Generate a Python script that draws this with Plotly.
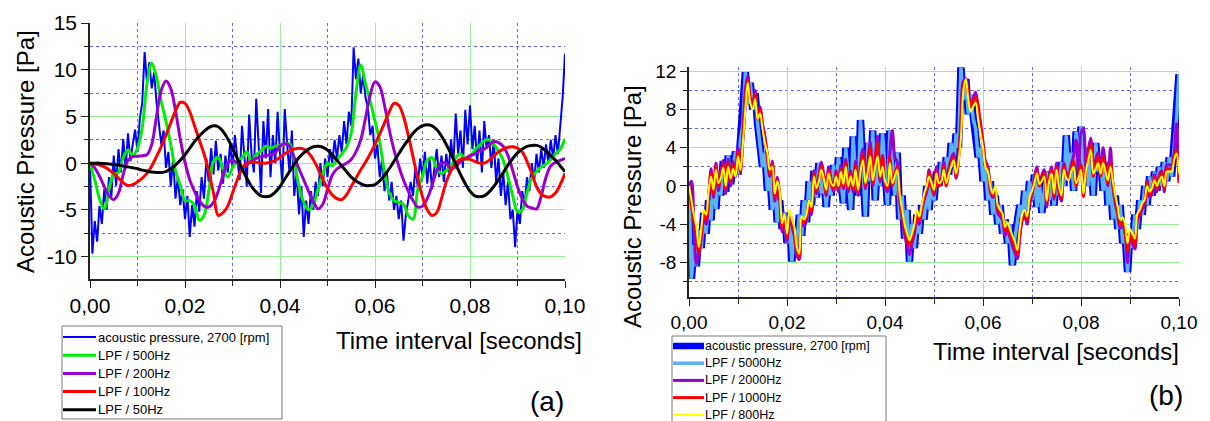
import plotly.graph_objects as go

# ---------------- data ----------------
dt_raw = 0.0005   # sample interval of the raw record [s]
dt_lpf = 0.001    # sample interval of the panel (a) filtered curves [s]

raw_pressure = [
    0, -9.7, -6.2, -8.4, -4.6, -6.5, -2.8, -5.0, -1.5, -3.6,
    0.8, -2.4, 1.5, -1.0, 2.6, -0.6, 3.2, 0.2, 2.0, 3.6,
    1.2, 4.8, 6.5, 11.9, 8.6, 10.8, 8.0, 9.7, 6.5, 4.2,
    2.0, 3.5, -0.5, 1.2, -2.5, 0.5, -3.8, -1.5, -4.5, -2.8,
    -6.0, -3.5, -7.9, -4.5, -6.8, -3.0, -5.2, -1.5, -3.8, 0.5,
    -2.0, 1.6, -1.2, 2.4, -0.8, 1.0, -2.2, 0.8, -1.0, 2.2,
    -0.5, 3.0, 0.2, -1.8, 4.0, 0.5, -2.5, 5.2, 1.0, -1.0,
    6.9, 2.0, -3.2, 4.5, 0.5, 5.8, -1.5, 3.0, 0.0, 5.5,
    1.0, -2.0, 5.8, 2.0, -1.0, 3.5, -3.5, -1.0, -5.5, -2.5,
    -7.9, -4.0, -6.5, -3.0, -5.0, -2.0, -3.5, 0.0, -2.5, 0.5,
    -1.5, 1.5, 0.0, 2.5, 0.5, 3.0, 1.2, 4.5, 2.0, 5.5,
    4.0, 12.4, 9.0, 11.2, 7.5, 9.5, 7.0, 6.0, 3.0, 4.0,
    0.5, 2.0, -1.5, 0.5, -3.0, -1.0, -4.0, -2.0, -5.0, -3.5,
    -6.0, -4.0, -8.3, -5.5, -4.0, -2.0, -3.5, -0.5, -2.5, 0.5,
    -1.5, 1.2, -2.2, 0.5, -2.8, -0.5, 1.5, -1.5, 0.8, -2.0,
    1.0, -1.0, 2.5, 0.0, 5.3, 1.0, 3.5, -0.5, 5.7, 2.0,
    6.2, 1.5, 4.0, 0.0, 3.5, -1.0, 4.5, 1.5, 3.0, -0.5,
    2.5, -2.0, 0.5, -3.5, -1.0, -4.5, -2.0, -6.0, -5.0, -9.0,
    -5.0, -6.5, -3.0, -4.5, -1.5, -3.0, 0.0, -2.0, 1.0, -1.0,
    1.5, -0.5, 2.0, 0.0, 2.5, 0.5, 3.0, 1.0, 4.0, 7.0, 11.7,
]

lpf_500 = [
    0, -1.8, -3.8, -4.9, -2.8, -1.2, -1.0, 0.6, 1.4, 0.8,
    1.6, 3.8, 8.5, 10.7, 9.2, 6.6, 4.5, 2.0, -0.8, -2.4,
    -4.0, -4.0, -4.5, -6.1, -5.6, -3.0, 0.2, 0.6, -0.6, -1.5,
    -0.5, 0.3, 0.6, 1.2, 0.2, 0.9, 1.3, 1.8, 1.6, 1.8,
    1.9, 2.0, 2.1, 0.3, -2.5, -4.2, -5.0, -4.5, -2.8, -1.2,
    0.0, -0.3, 0.4, 1.0, 1.7, 3.2, 7.5, 10.5, 8.5, 6.6,
    4.5, 2.3, -1.0, -3.2, -4.0, -4.2, -4.4, -5.6, -6.0, -2.8,
    -1.4, 0.3, 0.6, -0.6, -1.1, -0.8, -0.3, 0.6, 1.0, 0.4,
    0.6, 1.4, 1.9, 2.4, 2.5, 2.0, 1.3, 0.3, -1.5, -3.5,
    -5.2, -5.0, -3.2, -1.6, -0.9, -0.4, -0.1, 0.4, 1.0, 1.5,
    2.6,
]

lpf_200 = [
    0, -0.5, -1.4, -2.5, -3.5, -3.9, -3.2, -1.2, 0.3, 0.7,
    0.75, 0.8, 0.9, 2.0, 5.0, 7.8, 8.8, 8.0, 5.6, 2.6,
    0.1, -1.8, -3.0, -4.0, -4.6, -4.7, -4.2, -3.0, -1.3, 0.0,
    0.3, 0.0, -0.4, -0.2, 0.2, 0.5, 0.7, 0.8, 0.9, 1.1,
    1.8, 2.1, 1.8, 0.6, -0.6, -1.8, -3.0, -4.1, -4.9, -4.4,
    -2.8, -1.3, -0.6, -0.3, 0.0, 0.4, 1.2, 2.5, 4.8, 7.3,
    8.7, 8.2, 6.2, 3.6, 1.4, -0.3, -1.8, -3.0, -4.0, -4.7,
    -4.6, -3.8, -2.4, -0.8, 0.0, 0.0, -0.6, -0.4, 0.2, 0.5,
    0.8, 1.0, 1.3, 1.5, 1.9, 2.3, 2.2, 1.8, 0.8, -0.8,
    -2.5, -3.8, -4.6, -4.8, -4.9, -3.5, -1.5, -0.3, 0.1, 0.3,
    0.5,
]

lpf_100 = [
    0, -0.1, -0.2, -0.4, -0.7, -1.1, -1.6, -2.1, -2.4, -2.3,
    -2.0, -1.6, -1.1, -0.3, 0.7, 1.8, 3.0, 4.3, 5.6, 6.5,
    6.4, 5.5, 4.0, 2.5, 1.0, -0.9, -3.2, -5.6, -5.3, -4.6,
    -3.2, -1.8, -0.6, 0.0, 0.1, 0.1, 0.0, 0.0, 0.1, 0.3,
    0.6, 1.0, 1.3, 1.5, 1.6, 1.5, 1.1, 0.4, -0.6, -1.7,
    -2.7, -3.4, -3.8, -3.9, -3.4, -2.5, -1.6, -0.7, 0.1, 1.0,
    2.0, 3.1, 4.3, 5.5, 6.4, 6.2, 5.0, 3.0, 0.7, -1.6,
    -3.6, -5.0, -5.6, -5.3, -3.8, -2.0, -0.8, 0.0, 0.4, 0.5,
    0.4, 0.2, 0.0, 0.0, 0.3, 0.8, 1.2, 1.5, 1.7, 1.75,
    1.6, 1.2, 0.2, -1.1, -2.5, -3.3, -3.6, -3.6, -3.2, -2.3,
    -1.1,
]

lpf_50 = [
    0, 0, 0, -0.05, -0.1, -0.15, -0.2, -0.3, -0.4, -0.5,
    -0.6, -0.75, -0.85, -0.95, -1.0, -1.0, -0.9, -0.6, -0.2, 0.3,
    0.9, 1.6, 2.3, 2.9, 3.4, 3.8, 4.0, 3.9, 3.4, 2.6,
    1.6, 0.5, -0.6, -1.6, -2.5, -3.1, -3.5, -3.6, -3.5, -3.1,
    -2.5, -1.7, -0.9, -0.1, 0.6, 1.1, 1.5, 1.75, 1.8, 1.7,
    1.4, 0.9, 0.3, -0.3, -0.9, -1.5, -1.9, -2.2, -2.4, -2.4,
    -2.3, -1.9, -1.3, -0.6, 0.2, 1.0, 1.8, 2.5, 3.2, 3.7,
    4.0, 4.1, 4.0, 3.6, 2.9, 2.0, 1.0, -0.1, -1.2, -2.2,
    -3.0, -3.5, -3.6, -3.5, -3.1, -2.5, -1.8, -1.0, -0.2, 0.5,
    1.1, 1.5, 1.8, 1.9, 1.9, 1.7, 1.3, 0.8, 0.3, -0.3,
    -0.9,
]

# panel (b): filtered records at the raw sample interval
lpf_5000_b = list(raw_pressure)

lpf_2000_b = [
    0, 0.5, -4.0, -8.2, -7.0, -5.5, -3.5, -4.0, -1.5, 1.8,
    -1.2, 2.4, -0.5, 1.5, 2.7, -0.8, 2.8, 0.0, 2.6, 1.0,
    4.0, 2.0, 5.5, 10.0, 11.5, 9.2, 8.6, 10.0, 7.3, 8.3,
    6.5, 5.2, 3.0, 1.0, 2.6, -1.6, 0.9, -1.2, -4.8, -3.6,
    -5.8, -3.2, -4.2, -5.2, -7.2, -7.7, -4.0, -4.2, -3.5, -1.5,
    -3.0, 1.6, -0.8, 1.0, 2.5, 1.2, -1.0, 2.0, 0.6, -0.6,
    1.6, -0.6, 2.2, -0.3, 2.8, -0.6, 1.6, -0.6, 2.6, -1.0,
    2.2, 3.9, -0.3, 2.5, 4.6, 0.0, 3.0, 5.2, 0.4, 3.2,
    0.0, -0.6, 3.5, 5.8, 3.0, 2.5, -1.5, -3.5, -5.0, -6.2,
    -7.2, -6.0, -5.0, -3.2, -4.0, -2.6, -1.4, -0.6, 1.7, 0.3,
    -1.0, 2.0, 0.3, 0.8, 2.5, 0.3, 1.8, 2.8, 3.4, 0.8,
    3.0, 7.0, 11.0, 11.2, 9.8, 8.6, 9.2, 9.8, 8.0, 6.6,
    4.6, 2.6, 2.0, -0.6, -1.2, -0.6, -2.8, -3.2, -3.6, -5.2,
    -4.6, -5.4, -6.2, -7.0, -7.6, -5.4, -3.6, -3.0, -4.0, -1.8,
    -1.0, 0.9, 2.0, 0.3, 1.1, 1.7, -2.2, 1.0, 2.0, -1.4,
    2.4, -0.6, -1.6, 2.4, 1.4, 1.2, 2.2, 3.2, 4.8, 1.4,
    5.5, 6.0, 2.0, 3.8, 5.0, 1.2, 2.8, 3.5, 1.4, 4.0,
    2.2, 0.0, 4.0, 0.0, -1.8, -3.0, -4.4, -4.2, -5.0, -8.0,
    -5.5, -6.0, -6.6, -3.6, -3.1, -2.4, -2.0, 0.6, -1.2, -0.8,
    1.2, -0.6, 1.2, 1.6, -0.6, 2.2, 2.2, 2.2, 3.4, 6.5, 0.5,
]

lpf_1000_b = [
    0, -2.0, -3.5, -5.0, -7.0, -5.0, -3.0, -3.5, -1.0, 1.3,
    -0.8, 2.0, 0.0, 1.0, 2.2, -0.3, 2.4, 0.5, 2.2, 1.2,
    3.5, 1.5, 5.0, 9.0, 11.0, 9.0, 8.3, 9.6, 7.0, 8.0,
    6.2, 4.8, 3.2, 1.3, 2.3, -1.2, 0.6, -0.8, -4.3, -3.3,
    -5.4, -2.8, -3.8, -4.8, -6.8, -7.4, -3.6, -3.8, -3.2, -1.8,
    -2.6, 1.3, -0.5, 0.7, 2.1, 0.9, -0.7, 1.6, 0.3, -0.3,
    1.3, -0.3, 1.8, 0.0, 2.4, -0.3, 1.3, -0.3, 2.1, -0.7,
    1.8, 3.3, 0.0, 1.8, 4.0, 0.3, 2.4, 4.5, 0.8, 3.0,
    0.3, -0.3, 3.0, 0.0, 1.3, 2.0, -1.2, -3.0, -4.5, -5.5,
    -6.2, -5.4, -4.4, -2.8, -3.6, -2.3, -1.1, -0.3, 1.4, 0.0,
    -0.8, 1.6, 0.0, 0.4, 2.1, 0.0, 1.4, 2.4, 3.0, 1.0,
    2.8, 6.0, 10.5, 11.0, 9.5, 8.3, 8.8, 9.3, 8.5, 6.0,
    4.3, 2.3, 1.8, -0.3, -1.0, -0.2, -2.4, -2.8, -3.2, -4.7,
    -4.2, -5.0, -5.7, -6.3, -7.1, -5.0, -3.3, -2.8, -3.6, -1.5,
    -0.8, 0.6, 1.6, 0.0, 0.8, 1.3, -1.8, 0.8, 1.6, -1.1,
    2.0, -0.3, -1.3, 2.0, 1.1, 0.9, 1.8, 2.6, 0.0, 1.1,
    2.2, -1.1, 1.8, 3.2, 4.4, 1.0, 2.4, 3.0, 1.0, 3.0,
    1.8, 0.3, 2.4, 0.2, -1.4, -2.6, -4.0, -3.8, -4.6, -6.8,
    -5.0, -5.5, -6.2, -3.3, -2.8, -2.1, -1.6, 0.3, -0.9, -0.5,
    0.9, -0.3, 0.9, 1.3, -0.3, 1.8, 1.8, 1.8, 3.0, 3.8, 0.3,
]

lpf_800_b = [
    0, -1.5, -3.0, -4.2, -6.4, -4.5, -2.5, -3.0, -0.5, 1.0,
    -0.4, 1.7, 0.3, 0.8, 1.9, 0.0, 2.0, 0.8, 1.8, 1.0,
    3.1, 1.7, 4.5, 8.0, 10.8, 8.7, 8.0, 9.1, 7.0, 7.6,
    6.0, 4.5, 3.5, 1.7, 2.0, -0.8, 0.5, -0.5, -3.9, -3.0,
    -5.0, -2.5, -3.5, -4.3, -6.4, -7.1, -3.2, -3.5, -2.9, -1.5,
    -2.2, 1.0, -0.2, 0.5, 1.7, 0.8, -0.4, 1.3, 0.3, 0.0,
    1.0, 0.0, 1.5, 0.2, 2.0, 0.0, 1.0, 0.0, 1.7, -0.4,
    1.5, 2.7, 0.3, 1.5, 3.1, 0.6, 2.0, 3.1, 1.0, 2.0,
    0.5, 0.0, 2.4, 0.3, 1.0, 1.7, -0.8, -2.5, -4.0, -5.0,
    -5.7, -5.0, -4.0, -2.5, -3.2, -2.0, -0.8, 0.0, 1.0, 0.3,
    -0.4, 1.3, 0.3, 0.5, 1.7, 0.3, 1.2, 2.0, 2.7, 1.3,
    2.5, 5.0, 10.0, 11.2, 9.0, 7.8, 8.3, 8.7, 7.0, 5.5,
    4.0, 2.0, 1.5, 0.0, -0.8, 0.0, -2.0, -2.5, -2.9, -4.3,
    -3.8, -4.5, -5.2, -5.8, -6.7, -4.5, -3.0, -2.5, -3.2, -1.2,
    -0.5, 0.3, 1.3, 0.2, 0.5, 1.0, -1.5, 0.5, 1.3, -0.8,
    1.7, 0.0, -1.0, 1.7, 0.8, 0.6, 1.5, 2.0, 0.3, 0.8,
    1.7, -0.8, 1.5, 2.7, 3.8, 1.3, 1.8, 2.4, 1.3, 2.4,
    1.5, 0.6, 2.0, 0.5, -1.0, -2.2, -3.5, -3.3, -4.0, -6.0,
    -4.5, -5.0, -5.5, -2.9, -2.5, -1.8, -1.4, 0.0, -0.6, -0.2,
    0.6, 0.0, 0.6, 1.0, 0.0, 1.5, 1.5, 1.5, 2.7, 3.4, 1.3,
]

x_tick_vals = [0.0, 0.02, 0.04, 0.06, 0.08, 0.10]
x_tick_text = ["0,00", "0,02", "0,04", "0,06", "0,08", "0,10"]
x_minor_vals = [0.01, 0.03, 0.05, 0.07, 0.09]
ya_tick_vals = [-10, -5, 0, 5, 10, 15]
ya_tick_text = ["-10", "-5", "0", "5", "10", "15"]
ya_minor_vals = [-7.5, -2.5, 2.5, 7.5, 12.5]
yb_tick_vals = [-8, -4, 0, 4, 8, 12]
yb_tick_text = ["-8", "-4", "0", "4", "8", "12"]
yb_minor_vals = [-10, -6, -2, 2, 6, 10]

legend_a = ["acoustic pressure, 2700 [rpm]", "LPF / 500Hz", "LPF / 200Hz",
            "LPF / 100Hz", "LPF / 50Hz"]
legend_b = ["acoustic pressure, 2700 [rpm]", "LPF / 5000Hz", "LPF / 2000Hz",
            "LPF / 1000Hz", "LPF / 800Hz"]


def times(values, step):
    return [i * step for i in range(len(values))]


FONT = "Liberation Sans, Arial, sans-serif"
W, H = 1210, 421
fig = go.Figure()

# ---------------- panel (a) ----------------
series_a = [
    (raw_pressure, dt_raw, "#0000ff", 2.0, "linear"),
    (lpf_500, dt_lpf, "#00ee00", 3.0, "spline"),
    (lpf_200, dt_lpf, "#9900cc", 3.0, "spline"),
    (lpf_100, dt_lpf, "#ff0000", 3.0, "spline"),
    (lpf_50, dt_lpf, "#000000", 3.0, "spline"),
]
for (vals, step, col, wd, shp), name in zip(series_a, legend_a):
    fig.add_trace(go.Scatter(
        x=times(vals, step), y=vals, mode="lines", name=name,
        line=dict(color=col, width=wd, shape=shp),
        xaxis="x", yaxis="y", showlegend=False))

# ---------------- panel (b) ----------------
series_b = [
    (raw_pressure, "#0000ff", 7.5, "linear"),
    (lpf_5000_b, "#5ab4f2", 3.5, "linear"),
    (lpf_2000_b, "#9900cc", 3.0, "spline"),
    (lpf_1000_b, "#ff0000", 3.0, "spline"),
    (lpf_800_b, "#ffff00", 2.0, "spline"),
]
for (vals, col, wd, shp), name in zip(series_b, legend_b):
    fig.add_trace(go.Scatter(
        x=times(vals, dt_raw), y=vals, mode="lines", name=name,
        line=dict(color=col, width=wd, shape=shp),
        xaxis="x2", yaxis="y2", showlegend=False))

GRID_MAJOR = "rgb(150,240,150)"
GRID_MINOR = "rgb(100,100,255)"
AX_COLOR = "#222222"


def xaxis_cfg(domain, anchor, size):
    return dict(
        domain=domain, anchor=anchor, range=[0, 0.1], automargin=False,
        tickmode="array", tickvals=x_tick_vals, ticktext=x_tick_text,
        tickfont=dict(family=FONT, size=size, color="black"),
        showline=True, linecolor=AX_COLOR, linewidth=1.5,
        ticks="outside", ticklen=7, tickwidth=1.3, tickcolor=AX_COLOR,
        showgrid=True, gridcolor=GRID_MAJOR, gridwidth=1, zeroline=False,
        minor=dict(tickmode="array", tickvals=x_minor_vals, ticks="outside",
                   ticklen=5, tickcolor=AX_COLOR, showgrid=True,
                   gridcolor=GRID_MINOR, gridwidth=1, griddash="dot"),
        mirror=False, fixedrange=True)


def yaxis_cfg(domain, anchor, rng, tv, tt, mv, size):
    return dict(
        domain=domain, anchor=anchor, range=rng, automargin=False,
        tickmode="array", tickvals=tv, ticktext=tt,
        tickfont=dict(family=FONT, size=size, color="black"),
        showline=True, linecolor=AX_COLOR, linewidth=1.5,
        ticks="outside", ticklen=7, tickwidth=1.3, tickcolor=AX_COLOR,
        showgrid=True, gridcolor=GRID_MAJOR, gridwidth=1, zeroline=False,
        minor=dict(tickmode="array", tickvals=mv, ticks="outside",
                   ticklen=4, tickcolor=AX_COLOR, showgrid=True,
                   gridcolor=GRID_MINOR, gridwidth=1, griddash="dot"),
        mirror=False, fixedrange=True)


fig.update_layout(
    width=W, height=H,
    margin=dict(l=0, r=0, t=0, b=0, pad=0, autoexpand=False),
    paper_bgcolor="white", plot_bgcolor="white",
    showlegend=False,
    xaxis=xaxis_cfg([90 / W, 565 / W], "y", 21),
    yaxis=yaxis_cfg([1 - 279 / H, 1 - 23 / H], "x", [-12.4, 15],
                    ya_tick_vals, ya_tick_text, ya_minor_vals, 21),
    xaxis2=xaxis_cfg([689 / W, 1179 / W], "y2", 19),
    yaxis2=yaxis_cfg([1 - 297 / H, 1 - 67 / H], "x2", [-11.62, 12.45],
                     yb_tick_vals, yb_tick_text, yb_minor_vals, 19),
)


def px_x(p):
    return p / W


def px_y(p):
    return 1 - p / H


# ---------------- legend boxes (one per panel) ----------------
def draw_legend(names, styles, box, first_y, step, line_x, text_x, fsize):
    x0, y0, x1, y1 = box
    fig.add_shape(type="rect", xref="paper", yref="paper",
                  x0=px_x(x0), x1=px_x(x1), y0=px_y(y1), y1=px_y(y0),
                  line=dict(color="#7a7a7a", width=1), fillcolor="white",
                  layer="above")
    for k, (name, (col, wd)) in enumerate(zip(names, styles)):
        yc = first_y + k * step
        fig.add_shape(type="line", xref="paper", yref="paper",
                      x0=px_x(line_x[0]), x1=px_x(line_x[1]),
                      y0=px_y(yc), y1=px_y(yc),
                      line=dict(color=col, width=wd), layer="above")
        fig.add_annotation(text=name, xref="paper", yref="paper",
                           x=px_x(text_x), y=px_y(yc), xanchor="left",
                           yanchor="middle", showarrow=False,
                           font=dict(family=FONT, size=fsize, color="black"))


draw_legend(legend_a, [(s[2], s[3]) for s in series_a],
            (62, 326, 282, 419), 337, 18.2, (63, 96), 96, 13)
draw_legend(legend_b, [(s[1], min(s[2], 6.5)) for s in series_b],
            (672, 336, 886, 424), 346, 17.2, (673, 704), 703, 12.5)

annotations = [
    dict(text="Acoustic Pressure [Pa]", x=25, y=152, textangle=-90, size=24),
    dict(text="Acoustic Pressure [Pa]", x=632, y=207, textangle=-90, size=24),
    dict(text="Time interval [seconds]", x=459, y=340, textangle=0, size=24),
    dict(text="Time interval [seconds]", x=1056, y=351, textangle=0, size=24),
    dict(text="(a)", x=547, y=401, textangle=0, size=28),
    dict(text="(b)", x=1166, y=395, textangle=0, size=28),
]
for a in annotations:
    fig.add_annotation(
        text=a["text"], x=px_x(a["x"]), y=px_y(a["y"]), xref="paper", yref="paper",
        xanchor="center", yanchor="middle", showarrow=False,
        textangle=a["textangle"],
        font=dict(family=FONT, size=a["size"], color="black"))

fig.write_html("out.html")
